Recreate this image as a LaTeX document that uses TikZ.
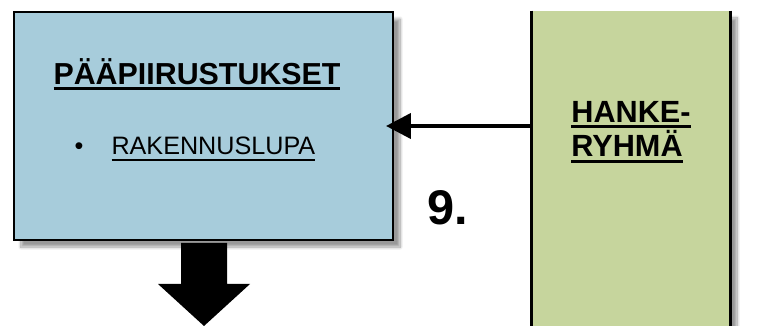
\documentclass[tikz,border=0pt]{standalone}
\usepackage{fontspec}
\setmainfont{Liberation Sans}
\usetikzlibrary{arrows.meta,shadows.blur}
\definecolor{planblue}{HTML}{A7CCDB}
\definecolor{teamgreen}{HTML}{C6D59D}
\newcommand\thickul[2]{\setbox0\hbox{#1}\leavevmode\rlap{\raisebox{-4pt}{\rule{\wd0}{#2}}}\box0}
\tikzset{
  boxshadow/.style={blur shadow={shadow xshift=5pt, shadow yshift=-5pt, shadow blur steps=12, shadow opacity=40}},
}
\begin{document}
\begin{tikzpicture}[x=0.025cm, y=-0.025cm]
\useasboundingbox (0,0) rectangle (761,326);
\node[draw, line width=2pt, fill=planblue, boxshadow, minimum width=9.475cm, minimum height=5.7cm] (plans) at (203.5,126) {};
\node[fill=teamgreen, boxshadow, minimum width=4.95cm, minimum height=8.725cm] (team) at (631,185.5) {};
\draw[line width=2pt] (team.north west) -- (team.south west);
\draw[line width=2pt] (team.north east) -- (team.south east);

\node (title) at (197,74) {\fontsize{21.6}{21.6}\selectfont\bfseries\thickul{PÄÄPIIRUSTUKSET}{2pt}};
\node (permit) at (195,149) {\fontsize{17.9}{17.9}\selectfont\textbullet\hspace{0.7cm}\thickul{RAKENNUSLUPA}{1.2pt}};
\node[align=left, font=\fontsize{21.8}{24.5}\selectfont\bfseries] (teamname) at (631,132) {\thickul{HANKE-}{2pt}\\\thickul{RYHMÄ}{2pt}};
\node[font=\fontsize{34.6}{34.6}\selectfont\bfseries] (step9) at (448,208) {9.};

\coordinate (in) at (386,126);
\draw[line width=3pt, -{Triangle[length=0.62cm, width=0.62cm]}] (team.west |- in) -- (in);
\fill (181,243) -- (227,243) -- (227,284) -- (250,284) -- (204,326) -- (158,284) -- (181,284) -- cycle;
\end{tikzpicture}
\end{document}
